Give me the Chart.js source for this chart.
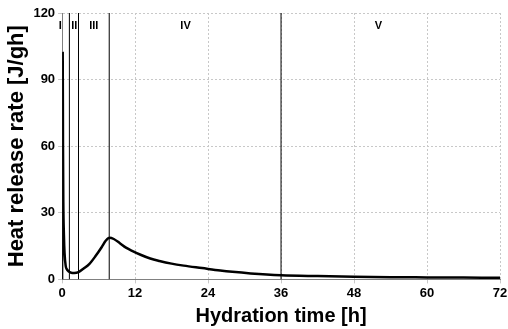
<!DOCTYPE html>
<html>
<head>
<meta charset="utf-8">
<script src="https://cdn.jsdelivr.net/npm/chart.js@4/dist/chart.umd.min.js"></script>
<style>
  html, body { margin: 0; padding: 0; background: #fff; }
  #wrap { width: 508px; height: 329px; }
</style>
</head>
<body>
<div id="wrap"><canvas id="grafico"></canvas></div>
<script>
// curva de calor (tempo em h, taxa em J/gh)
var tempo = [0, 0.05, 0.1, 0.15, 0.2, 0.3, 0.4, 0.6, 0.8, 1.0, 1.5, 2.0, 2.7, 3.5, 4.5, 5.5, 6.5, 7.2, 7.8, 8.5, 9.5, 10.5, 11.5, 13, 14.5, 16, 18, 20, 23, 26, 28, 31, 36, 42, 48, 54, 60, 66, 72];
var taxa = [0, 60, 102, 60, 35, 20, 12, 6, 4.5, 3.8, 3.0, 2.9, 3.3, 4.8, 7, 10.5, 14.5, 17.5, 18.8, 18.2, 16.3, 14.3, 12.9, 11, 9.4, 8.3, 7.1, 6.2, 5.1, 4, 3.4, 2.7, 1.9, 1.5, 1.2, 1.0, 0.9, 0.8, 0.7];

// limites dos periodos
var limites = [1.2, 2.7, 7.75, 36];
var periodos = ['I', 'II', 'III', 'IV', 'V'];
var periodosX = [-0.3, 2.0, 5.2, 20.3, 52];
var periodosY = 114;

var ticksX = [0, 12, 24, 36, 48, 60, 72];
var ticksY = [0, 30, 60, 90, 120];

var dados = {
  datasets: [{
    label: 'curva',
    data: tempo.map(function (t, i) { return { x: t, y: taxa[i] }; }),
    borderColor: '#000',
    borderWidth: 2.5,
    pointRadius: 0,
    cubicInterpolationMode: 'monotone'
  }]
};

for (var i = 0; i < limites.length; i++) {
  dados.datasets.push({
    label: 'limite' + i,
    data: [{ x: limites[i], y: 0 }, { x: limites[i], y: 120 }],
    borderColor: '#000',
    borderWidth: 1,
    pointRadius: 0
  });
}

// escreve os nomes dos periodos
const rotulos = {
  id: 'rotulos',
  afterDatasetsDraw(chart) {
    const ctx = chart.ctx;
    ctx.save();
    ctx.font = 'bold 11px "Liberation Sans", Arial, sans-serif';
    ctx.fillStyle = '#000';
    ctx.textAlign = 'center';
    ctx.textBaseline = 'middle';
    for (let i = 0; i < periodos.length; i++) {
      ctx.fillText(periodos[i], chart.scales.x.getPixelForValue(periodosX[i]), chart.scales.y.getPixelForValue(periodosY));
    }
    ctx.restore();
  }
};

const fonteTick = { family: '"Liberation Sans", Arial, sans-serif', size: 13, weight: 'bold' };

var config = {
  type: 'line',
  data: dados,
  options: {
    responsive: true,
    maintainAspectRatio: false,
    animation: false,
    layout: { autoPadding: false, padding: { top: 13, right: 8, left: 4, bottom: 0 } },
    plugins: { legend: { display: false }, tooltip: { enabled: false } },
    scales: {
      x: {
        type: 'linear',
        min: 0, max: 72,
        afterBuildTicks: function (ax) { ax.ticks = ticksX.map(function (v) { return { value: v }; }); },
        // o rotulo "72" pode passar da borda, como no original
        afterFit: function (ax) { ax.paddingRight = 0; ax.paddingLeft = 0; },
        grid: { color: '#c8c8c8', tickLength: 4 },
        border: { color: '#808080', dash: [2, 2] },
        ticks: { color: '#000', font: fonteTick, padding: 2, maxRotation: 0 },
        title: { display: true, text: 'Hydration time [h]', color: '#000', font: { family: '"Liberation Sans", Arial, sans-serif', size: 20, weight: 'bold' }, padding: { top: 1, bottom: 1 } }
      },
      y: {
        min: 0, max: 120,
        afterBuildTicks: function (ax) { ax.ticks = ticksY.map(function (v) { return { value: v }; }); },
        grid: { color: '#c8c8c8', tickLength: 4 },
        border: { color: '#808080', dash: [2, 2] },
        ticks: { color: '#000', font: fonteTick, padding: 3 },
        title: { display: true, text: 'Heat release rate [J/gh]', color: '#000', font: { family: '"Liberation Sans", Arial, sans-serif', size: 22, weight: 'bold' }, padding: { top: 0, bottom: 0 } }
      }
    }
  },
  plugins: [rotulos]
};

let myChart = new Chart(document.getElementById('grafico'), config);
</script>
</body>
</html>
